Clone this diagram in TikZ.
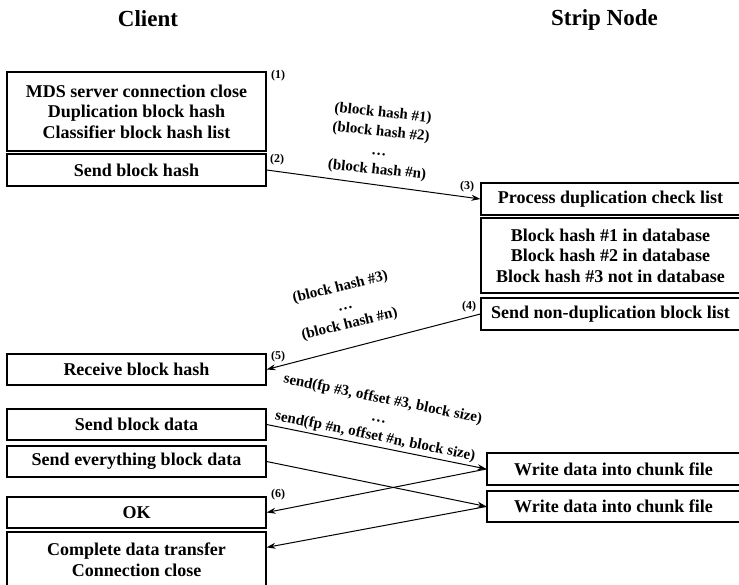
\documentclass[tikz,border=0pt]{standalone}
\usepackage{fontspec}
\setmainfont{Liberation Serif}
\usetikzlibrary{arrows.meta}

\begin{document}
\begin{tikzpicture}
[x=1pt,y=-1pt,
 box/.style={draw,line width=1.2pt,minimum width=259pt,inner sep=0pt,align=center,font=\fontsize{18}{20.5}\selectfont\bfseries},
 head/.style={anchor=base,font=\fontsize{23}{27}\selectfont\bfseries},
 num/.style={inner sep=0pt,font=\fontsize{12}{13}\selectfont\bfseries},
 msg/.style={align=center,inner sep=0pt,font=\fontsize{15}{19}\selectfont\bfseries},
 arr/.style={-{Stealth[length=9pt,width=6pt]},line width=1pt}]
\useasboundingbox (0,0) rectangle (739,585);

\node[head] (client) at (148,27) {Client};
\node[head] (strip) at (604.5,26) {Strip Node};

% client side
\node[box,minimum height=79pt] (mds) at (136.5,111.5) {MDS server connection close\\Duplication block hash\\Classifier block hash list};
\node[box,minimum height=32pt] (sendhash) at (136.5,170) {Send block hash};
\node[box,minimum height=31pt] (recv) at (136.5,369.5) {Receive block hash};
\node[box,minimum height=31pt] (senddata) at (136.5,424.5) {Send block data};
\node[box,minimum height=31pt] (sendall) at (136.5,461.5) {Send everything block data};
\node[box,minimum height=31pt] (ok) at (136.5,512.5) {OK};
\node[box,minimum height=55pt] (complete) at (136.5,559.5) {Complete data transfer\\Connection close};

% strip node side
\node[box,minimum height=32pt] (process) at (610.5,199) {Process duplication check list};
\node[box,minimum height=75pt] (dbcheck) at (610.5,255.5) {Block hash \#1 in database\\Block hash \#2 in database\\Block hash \#3 not in database};
\node[box,minimum height=32pt] (sendlist) at (610.5,314) {Send non-duplication block list};
\node[box,minimum width=253pt,minimum height=32pt] (writea) at (613.5,469) {Write data into chunk file};
\node[box,minimum width=253pt,minimum height=31pt] (writeb) at (613.5,506.5) {Write data into chunk file};

% step numbers
\node[num] (n1) at (278,76) {(1)};
\node[num] (n2) at (277,160) {(2)};
\node[num] (n3) at (467,187) {(3)};
\node[num] (n4) at (469,307) {(4)};
\node[num] (n5) at (278,357) {(5)};
\node[num] (n6) at (278,495) {(6)};

% messages
\draw[arr] (sendhash.east) -- (process.west);
\draw[arr] (sendlist.west) -- (recv.east);
\draw[arr] (senddata.east) -- (writea.west);
\draw[arr] (sendall.east) -- (writeb.west);
\draw[arr] (writea.west) -- (ok.east);
\coordinate (cin) at ([yshift=-16pt]complete.north east);
\draw[arr] (writeb.west) -- (cin);

\node[msg,rotate=-6] (hashes) at (380,142) {(block hash \#1)\\(block hash \#2)\\\dots\\(block hash \#n)};
\node[msg,rotate=14] (missing) at (345,306) {(block hash \#3)\\\dots\\(block hash \#n)};
\node[msg,rotate=-11.5] (sends) at (379,418) {send(fp \#3, offset \#3, block size)\\\dots\\send(fp \#n, offset \#n, block size)};
\end{tikzpicture}
\end{document}
